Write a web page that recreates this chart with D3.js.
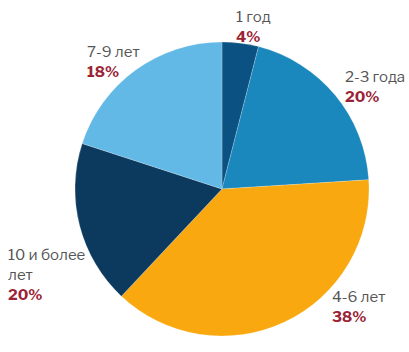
<!DOCTYPE html>
<html><head><meta charset="utf-8">
<script src="https://cdn.jsdelivr.net/npm/d3@7"></script>
<style>body{margin:0;background:#fff}svg{display:block}</style>
</head><body>
<svg id="c" width="409" height="352"></svg>
<script>
const categories = ["1 год", "2-3 года", "4-6 лет", "10 и более лет", "7-9 лет"];
// slice sizes as drawn in the picture
const values = [4, 20, 38, 18, 20];
// percentage labels as printed in the picture
const percentLabels = ["4%", "20%", "38%", "20%", "18%"];
const colors = ["#0b5283", "#1a87bd", "#f9a90f", "#0b3a5e", "#63b9e5"];
const labelLines = [["1 год"], ["2-3 года"], ["4-6 лет"], ["10 и более", "лет"], ["7-9 лет"]];
const labelPos = [[236, 22], [345, 82], [332, 302], [8, 260], [87, 57]];

const svg = d3.select("#c");
const cx = 222, cy = 189, R = 147;
const pie = d3.pie().sort(null).value(d => d)(values);
const arc = d3.arc().innerRadius(0).outerRadius(R);
const g = svg.append("g").attr("transform", `translate(${cx},${cy})`);
g.selectAll("path").data(pie).join("path")
  .attr("d", arc).attr("fill", (d, i) => colors[i])
  .attr("stroke", "rgba(255,255,255,0.35)").attr("stroke-width", 0.6);

const font = "'Libre Franklin','Roboto','Liberation Sans',sans-serif";
categories.forEach((c, i) => {
  const [x, y] = labelPos[i];
  const lines = labelLines[i];
  lines.forEach((l, j) => {
    svg.append("text").attr("x", x).attr("y", y + j * 20)
      .attr("font-family", font).attr("font-size", 15).attr("fill", "#555")
      .text(l);
  });
  svg.append("text").attr("x", x).attr("y", y + lines.length * 20)
    .attr("font-family", font).attr("font-size", 15).attr("font-weight", "bold")
    .attr("fill", "#9b2335").text(percentLabels[i]);
});
</script>
</body></html>
